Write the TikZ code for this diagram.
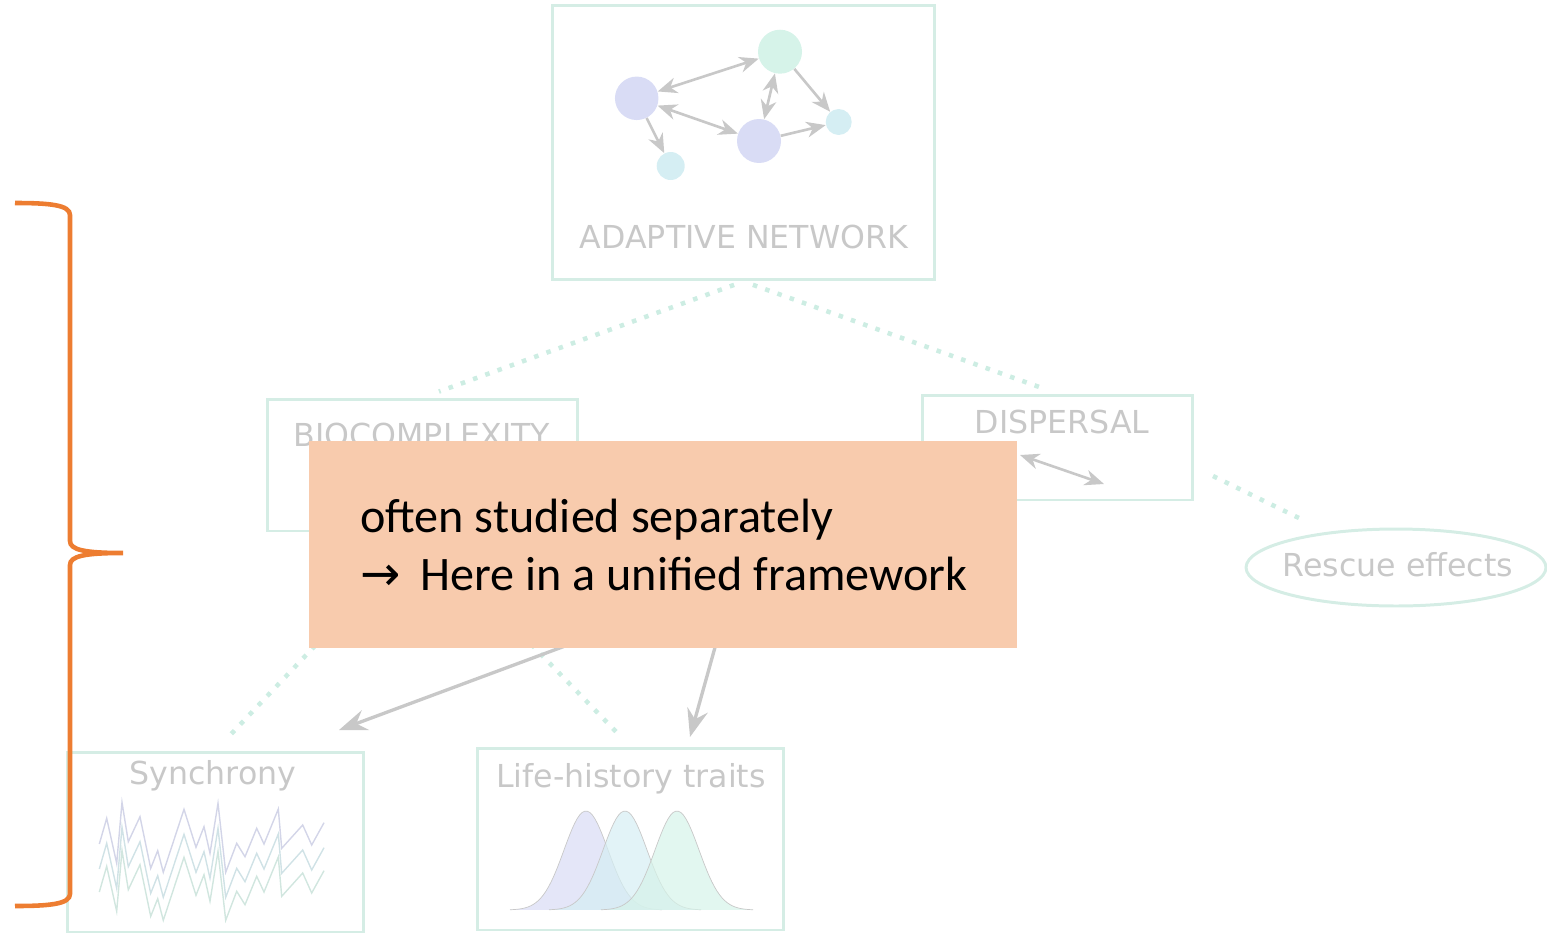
\documentclass[tikz,border=0pt]{standalone}
\usepackage{fontspec}
\setmainfont{DejaVu Sans}
\newfontfamily\notefont{Carlito}
\newfontfamily\arrowfont{DejaVu Sans}
\usetikzlibrary{arrows.meta,shapes.geometric}

\definecolor{mint}{HTML}{D5EDE5}
\definecolor{dotmint}{HTML}{CDEDE3}
\definecolor{labelgrey}{HTML}{C8C8C8}
\definecolor{nodepurple}{HTML}{D9DCF5}
\definecolor{nodegreen}{HTML}{D6F3E9}
\definecolor{nodecyan}{HTML}{D5EEF3}
\definecolor{notefill}{HTML}{F8CBAD}
\definecolor{braceorange}{HTML}{ED7D31}

\begin{document}
\begin{tikzpicture}[x=0.02cm, y=-0.02cm,
  box/.style={draw=mint, line width=1.7pt, inner sep=0pt},
  topic/.style={text=labelgrey, font=\fontsize{18}{21}\selectfont, anchor=base, inner sep=0pt},
  link/.style={draw=dotmint, line width=2.6pt, dash pattern=on 2.6pt off 4.8pt},
  spot/.style={circle, inner sep=0pt},
  move/.style={draw=labelgrey, line width=1.5pt},
  bigmove/.style={draw=labelgrey, line width=1.9pt, -{Stealth[length=16pt, width=12pt, inset=5.5pt]}},
  notetext/.style={anchor=base west, inner sep=0pt, font=\notefont\fontsize{27.4}{33}\selectfont},
  >={Stealth[length=11pt, width=9pt, inset=3.5pt]}]

\useasboundingbox (0,0) rectangle (1547,933);

\node [box, minimum width=7.66cm, minimum height=5.5cm] (net) at (743.5,142.5) {};
\node [topic] (netlabel) at (744,248) {ADAPTIVE NETWORK};
\node [spot, fill=nodepurple, minimum size=0.87cm] (a) at (636.7,98.3) {};
\node [spot, fill=nodegreen, minimum size=0.88cm] (b) at (780,51.7) {};
\node [spot, fill=nodepurple, minimum size=0.88cm] (c) at (759,141) {};
\node [spot, fill=nodecyan, minimum size=0.52cm] (d) at (838.7,122) {};
\node [spot, fill=nodecyan, minimum size=0.56cm] (e) at (670.7,166) {};
\draw [move, <->] (a) -- (b);
\draw [move, <->] (a) -- (c);
\draw [move, <->] (b) -- (c);
\draw [move, ->] (b) -- (d);
\draw [move, ->] (c) -- (d);
\draw [move, ->] (a) -- (e);

\node [box, minimum width=6.22cm, minimum height=2.64cm] (bio) at (422.5,465) {};
\node [topic] (biolabel) at (422,446) {BIOCOMPLEXITY};
\node [box, minimum width=5.42cm, minimum height=2.1cm] (disp) at (1057.5,447.5) {};
\node [topic] (displabel) at (1062,433) {DISPERSAL};
\node [box, ellipse, minimum width=6cm, minimum height=1.54cm] (rescue) at (1396,567.5) {};
\node [topic] (rescuelabel) at (1398,576) {Rescue effects};
\node [box, minimum width=5.94cm, minimum height=3.6cm] (sync) at (215.5,842) {};
\node [topic] (synclabel) at (213,784) {Synchrony};
\node [box, minimum width=6.14cm, minimum height=3.64cm] (life) at (630.5,839) {};
\node [topic] (lifelabel) at (631,787) {Life-history traits};

\coordinate (dispout) at (1213,476);
\coordinate (rescuein) at (1303,520);
\coordinate (leftfrom) at (600,633);
\coordinate (leftto) at (339,730);
\coordinate (downfrom) at (719,633);
\coordinate (downto) at (690,737);
\coordinate (flowa) at (1020,455);
\coordinate (flowb) at (1104,484);

\draw [link, shorten <=0.2cm, shorten >=0.35cm] (net.south) -- (bio.north);
\draw [link, shorten <=0.2cm, shorten >=0.35cm] (net.south) -- (disp.north);
\draw [link] (dispout) -- (rescuein);
\draw [link, shorten >=0.3cm] (bio.south) -- (sync.north);
\draw [link, shorten >=0.4cm] (bio.south) -- (life.north);
\draw [bigmove] (leftfrom) -- (leftto);
\draw [bigmove] (downfrom) -- (downto);
\draw [move, <->] (flowa) -- (flowb);

\foreach \col/\off in {nodepurple/0, nodecyan/25, nodegreen/48}
  \draw [\col!85!gray!85, line width=0.8pt, shift={(0,\off)}] (99.3,844) -- (106.7,818.3) -- (116.7,863.3) -- (122,802.3) -- (128.3,841.7) -- (140,816.7) -- (150.7,868.3) -- (157.7,850.7) -- (163.3,872.3) -- (184,809.3) -- (196,847.3) -- (204,826.7) -- (210,853.3) -- (218,803.3) -- (225.7,872.3) -- (236.7,843.3) -- (245,856.7) -- (256.7,828.3) -- (264,844) -- (278.3,809) -- (281.7,848.3) -- (302.7,825) -- (311.7,845) -- (324,822.7);

\foreach \peak/\col in {586/nodepurple, 625/nodecyan, 677/nodegreen}
  \filldraw [fill=\col, fill opacity=0.7, draw=labelgrey, line width=0.4pt] plot [domain=-76:76, samples=60] ({\peak+\x}, {910-99*exp(-((\x)*(\x))/968)});

\node [fill=notefill, minimum width=14.16cm, minimum height=4.14cm, inner sep=0pt] (note) at (663,544.5) {};
\node [notetext] (notetop) at (360,532) {often studied separately};
\node [notetext] (notebottom) at (360,590) {\arrowfont →\notefont\ \hspace{5pt}Here in a unified framework};

\draw [braceorange, line width=2.6pt] (15,203) .. controls (50,203) and (70,205) .. (70,215) -- (70,541) .. controls (70,550) and (85,553) .. (123,553) .. controls (85,553) and (70,556) .. (70,565) -- (70,894) .. controls (70,904) and (50,906) .. (15,906);

\end{tikzpicture}
\end{document}
